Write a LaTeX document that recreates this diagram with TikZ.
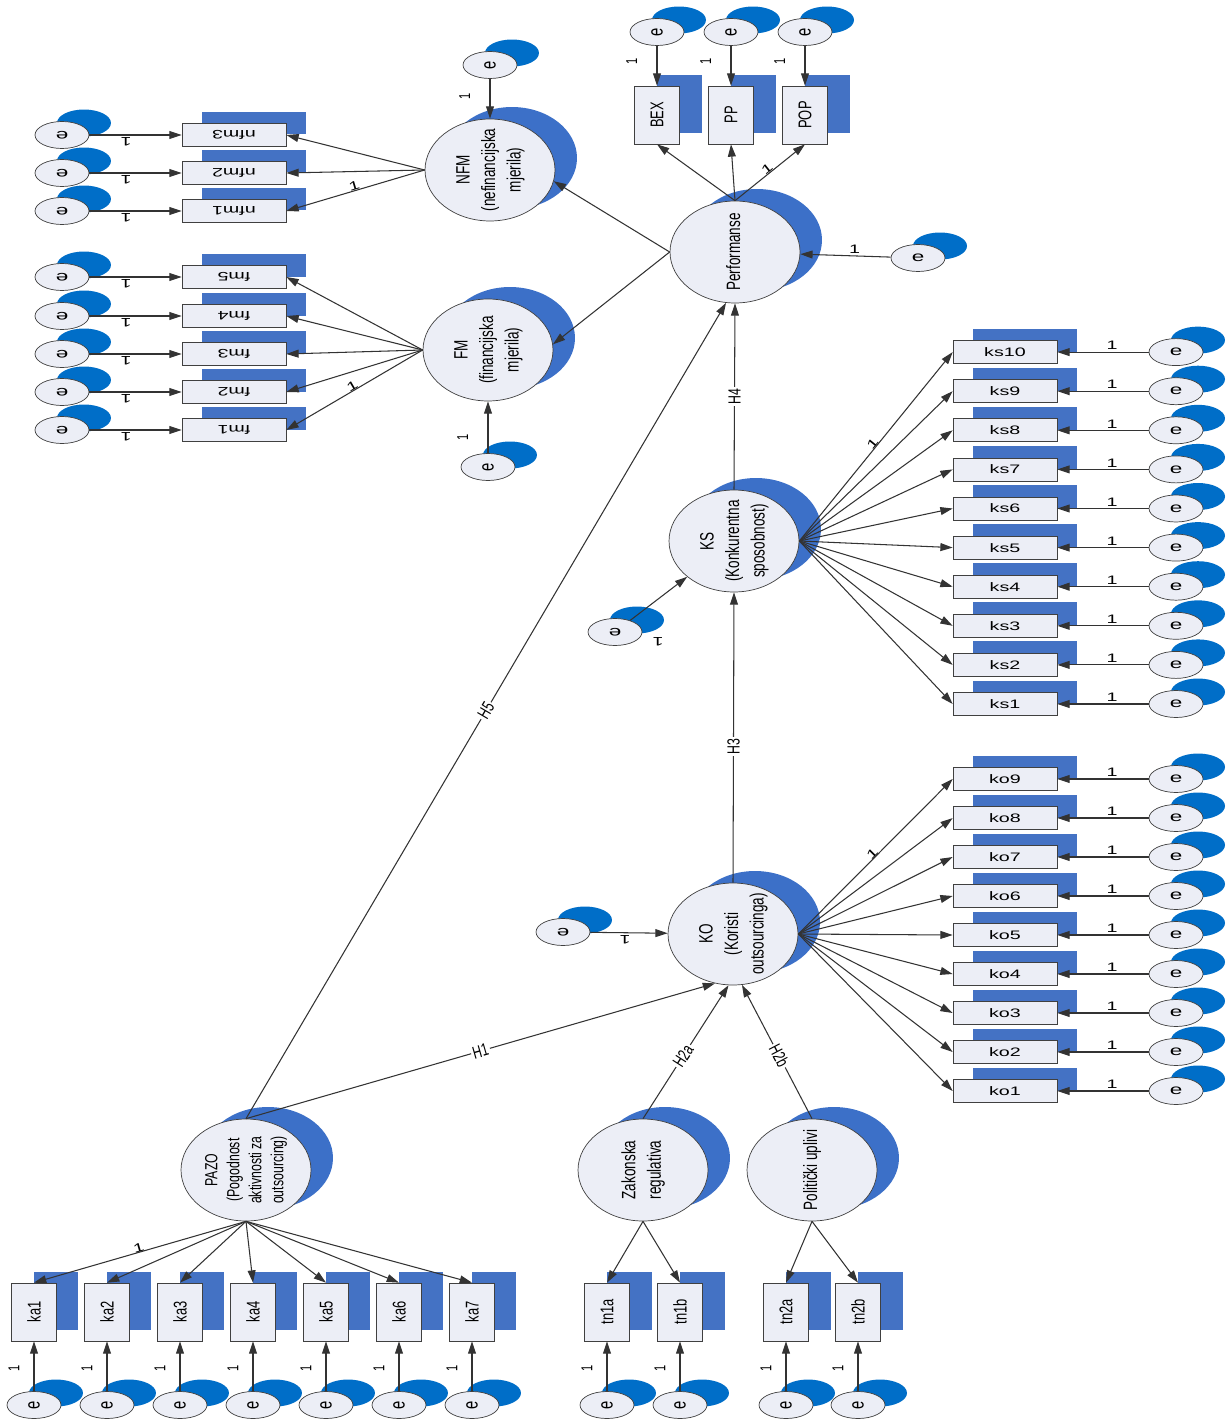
\documentclass[tikz,border=0pt]{standalone}
\usepackage{fontspec}
\usepackage{graphicx}
\setmainfont{Liberation Sans}
\newfontfamily\condfont[FakeStretch=0.7]{Liberation Sans}
\newfontfamily\widefont[FakeStretch=1.6]{Liberation Sans}
\usetikzlibrary{shapes.geometric,shadows,arrows.meta}

\definecolor{EShadowColor}{RGB}{0,110,200}
\definecolor{BoxShadowColor}{RGB}{68,114,196}
\definecolor{LatentShadowColor}{RGB}{60,112,200}
\definecolor{NodeColor}{RGB}{236,238,246}

\newcommand{\uptext}[1]{\rotatebox{90}{\begin{tabular}{@{}c@{}}#1\end{tabular}}}
\newcommand{\flip}[1]{\rotatebox{180}{#1}}

\tikzset{
  latent/.style={ellipse, draw=black!75, fill=NodeColor, minimum width=2.6cm, minimum height=2.04cm, inner sep=-6pt,
    copy shadow={shadow xshift=0.44cm, shadow yshift=0.24cm, fill=LatentShadowColor, draw=none},
    font=\condfont\fontsize{11}{14.5}\selectfont},
  hbox/.style={rectangle, draw=black!75, fill=NodeColor, minimum width=2.08cm, minimum height=0.46cm, inner sep=0pt,
    copy shadow={shadow xshift=0.4cm, shadow yshift=0.24cm, fill=BoxShadowColor, draw=none},
    font=\widefont\fontsize{7}{8}\selectfont},
  vbox/.style={rectangle, draw=black!75, fill=NodeColor, minimum width=0.9cm, minimum height=1.16cm, inner sep=0pt,
    copy shadow={shadow xshift=0.44cm, shadow yshift=0.22cm, fill=BoxShadowColor, draw=none},
    font=\condfont\fontsize{10.5}{12}\selectfont},
  err/.style={ellipse, draw=black!75, fill=NodeColor, minimum width=1.08cm, minimum height=0.54cm, inner sep=0pt,
    copy shadow={shadow xshift=0.44cm, shadow yshift=0.24cm, fill=EShadowColor, draw=none},
    font=\widefont\fontsize{8}{8}\selectfont},
  verr/.style={err, font=\condfont\fontsize{12}{12}\selectfont},
  arr/.style={draw=black!80, line width=0.6pt, -{Triangle[length=7pt,width=4.5pt]}},
  one/.style={font=\widefont\fontsize{7}{8}\selectfont, inner sep=1pt},
  vone/.style={font=\condfont\fontsize{9}{9}\selectfont, inner sep=1pt},
  hyp/.style={font=\condfont\fontsize{10}{10}\selectfont, fill=white, inner sep=1pt}
}

\begin{document}
\begin{tikzpicture}[x=0.02cm, y=-0.02cm]
\useasboundingbox (0,0) rectangle (1229,1419);

\node[latent] (NFM) at (490,170) {\uptext{NFM\\(nefinancijska\\mjerila)}};
\node[latent] (FM) at (488,350) {\uptext{FM\\(financijska\\mjerila)}};
\node[latent] (Perf) at (735,252) {\uptext{Performanse}};
\node[latent] (KS) at (734,541) {\uptext{KS\\(Konkurentna\\sposobnost)}};
\node[latent] (KO) at (733,934) {\uptext{KO\\(Koristi\\outsourcinga)}};
\node[latent, font=\condfont\fontsize{10}{12.5}\selectfont] (PAZO) at (246,1170) {\uptext{PAZO\\(Pogodnost\\aktivnosti za\\outsourcing)}};
\node[latent] (ZR) at (643,1170) {\uptext{Zakonska\\regulativa}};
\node[latent] (PU) at (812,1170) {\uptext{Politički uplivi}};

\foreach \lbl/\x in {BEX/657, PP/731, POP/805} {
  \node[vbox] (\lbl) at (\x,115) {\rotatebox{90}{\lbl}};
  \node[verr] (e\lbl) at (\x,32) {\rotatebox{90}{e}};
  \draw[arr] (e\lbl) -- node[vone, left, pos=0.4, xshift=-10pt] {\rotatebox{90}{1}} (\lbl);
}
\draw[arr] (Perf.north) -- (BEX.south);
\draw[arr] (Perf.north) -- (PP.south);
\draw[arr] (Perf.north) -- node[one, sloped, above=-1pt, pos=0.5] {1} (POP.south);

\foreach \i/\y in {1/211, 2/173, 3/135} {
  \node[hbox] (nfm\i) at (234,\y) {\flip{nfm\i}};
  \node[err] (enfm\i) at (62,\y) {\flip{e}};
  \draw[arr] (enfm\i) -- node[one, below, pos=0.4] {\flip{1}} (nfm\i);
  \draw[arr] (NFM.west) -- (nfm\i.east);
}
\path (NFM.west) -- node[one, sloped, above=-1pt, pos=0.5] {1} (nfm1.east);

\foreach \i/\y in {1/430, 2/392, 3/354, 4/316, 5/277} {
  \node[hbox] (fm\i) at (234,\y) {\flip{fm\i}};
  \node[err] (efm\i) at (62,\y) {\flip{e}};
  \draw[arr] (efm\i) -- node[one, below, pos=0.4] {\flip{1}} (fm\i);
  \draw[arr] (FM.west) -- (fm\i.east);
}
\path (FM.west) -- node[one, sloped, above=-1pt, pos=0.5] {1} (fm1.east);

\node[verr] (eNFM) at (490,65) {\rotatebox{90}{e}};
\draw[arr] (eNFM) -- node[vone, left, pos=0.45, xshift=-10pt] {\rotatebox{90}{1}} (NFM);
\node[verr] (eFM) at (488,467) {\rotatebox{90}{e}};
\draw[arr] (eFM) -- node[vone, left, pos=0.3, xshift=-10pt] {\rotatebox{90}{1}} (FM);
\draw[arr] (Perf.west) -- (NFM.-10);
\draw[arr] (Perf.west) -- (FM.5);

\node[err] (ePerf) at (918,258) {e};
\draw[arr] (ePerf) -- node[one, above, pos=0.4] {1} (Perf);

\foreach \i in {1,...,10} {
  \pgfmathsetmacro\y{704-(\i-1)*39.1}
  \node[hbox] (ks\i) at (1005,\y) {ks\i};
  \node[err] (eks\i) at (1176,\y) {e};
  \draw[arr] (eks\i) -- node[one, above, pos=0.4] {1} (ks\i);
  \draw[arr] (KS.east) -- (ks\i.west);
}
\path (KS.east) -- node[one, sloped, above=-1pt, pos=0.5] {1} (ks10.west);

\foreach \i in {1,...,9} {
  \pgfmathsetmacro\y{1091-(\i-1)*39}
  \node[hbox] (ko\i) at (1005,\y) {ko\i};
  \node[err] (eko\i) at (1176,\y) {e};
  \draw[arr] (eko\i) -- node[one, above, pos=0.4] {1} (ko\i);
  \draw[arr] (KO.east) -- (ko\i.west);
}
\path (KO.east) -- node[one, sloped, above=-1pt, pos=0.5] {1} (ko9.west);

\node[err] (eKS) at (615,632) {\flip{e}};
\draw[arr] (eKS) -- node[one, at start, xshift=16pt, yshift=-12pt] {\flip{1}} (KS);
\node[err] (eKO) at (563,932) {\flip{e}};
\draw[arr] (eKO) -- node[one, below, pos=0.45] {\flip{1}} (KO);

\draw[arr] (KS.north) -- node[hyp, pos=0.5] {\rotatebox{90}{H4}} (Perf.south);
\draw[arr] (KO.north) -- node[hyp, pos=0.47] {\rotatebox{90}{H3}} (KS.south);
\draw[arr] (PAZO.north) -- node[hyp, sloped, pos=0.5] {H5} (Perf.260);
\draw[arr] (PAZO.north) -- node[hyp, sloped, pos=0.5] {H1} (KO.250);
\draw[arr] (ZR.north) -- node[hyp, sloped, pos=0.47] {H2a} (KO.265);
\draw[arr] (PU.north) -- node[hyp, sloped, pos=0.47] {H2b} (KO.280);

\foreach \i in {1,...,7} {
  \pgfmathsetmacro\x{34+(\i-1)*73}
  \node[vbox] (ka\i) at (\x,1312) {\rotatebox{90}{ka\i}};
  \node[verr] (eka\i) at (\x,1405) {\rotatebox{90}{e}};
  \draw[arr] (eka\i) -- node[vone, left, pos=0.45, xshift=-7pt] {\rotatebox{90}{1}} (ka\i);
  \draw[arr] (PAZO.south) -- (ka\i.north);
}
\path (PAZO.south) -- node[one, sloped, above=-1pt, pos=0.5] {1} (ka1.north);

\foreach \lbl/\x/\lv in {tn1a/607/ZR, tn1b/680/ZR, tn2a/786/PU, tn2b/858/PU} {
  \node[vbox] (\lbl) at (\x,1312) {\rotatebox{90}{\lbl}};
  \node[verr] (e\lbl) at (\x,1405) {\rotatebox{90}{e}};
  \draw[arr] (e\lbl) -- node[vone, left, pos=0.45, xshift=-7pt] {\rotatebox{90}{1}} (\lbl);
  \draw[arr] (\lv.south) -- (\lbl.north);
}
\end{tikzpicture}
\end{document}
